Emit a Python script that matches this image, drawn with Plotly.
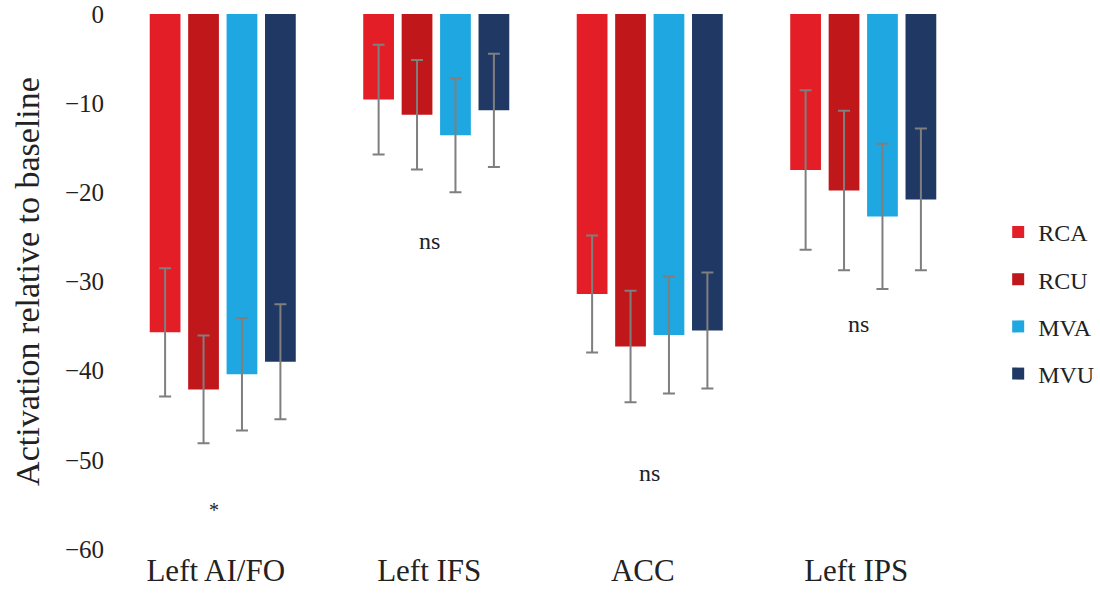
import plotly.graph_objects as go

categories = ["Left AI/FO", "Left IFS", "ACC", "Left IPS"]
series_names = ["RCA", "RCU", "MVA", "MVU"]
rca = [-35.7, -9.6, -31.4, -17.5]
rcu = [-42.1, -11.3, -37.3, -19.8]
mva = [-40.4, -13.6, -36.0, -22.7]
mvu = [-39.0, -10.8, -35.5, -20.8]
rca_err = [7.2, 6.15, 6.55, 8.95]
rcu_err = [6.05, 6.15, 6.25, 8.95]
mva_err = [6.3, 6.4, 6.55, 8.15]
mvu_err = [6.45, 6.35, 6.5, 7.95]
colors = ["#e41e26", "#c0171b", "#1fa7e1", "#1f3864"]

annot_text = ["*", "ns", "ns", "ns"]
annot_x = [-0.04, 0.97, 2.0, 2.98]
annot_y = [-55.6, -25.5, -51.5, -34.8]

values = [rca, rcu, mva, mvu]
errors = [rca_err, rcu_err, mva_err, mvu_err]

FONT = "Liberation Serif, Times New Roman, serif"

fig = go.Figure()
for name, vals, errs, col in zip(series_names, values, errors, colors):
    fig.add_trace(go.Bar(
        name=name, x=categories, y=vals, marker_color=col,
        marker_line_width=0, legendgroup=name,
        error_y=dict(type="data", array=errs, visible=True, color="#7f7f7f",
                     thickness=2, width=6),
    ))

for t, ax_, ay_ in zip(annot_text, annot_x, annot_y):
    fig.add_annotation(x=ax_, y=ay_, text=t, showarrow=False,
                       font=dict(family=FONT, size=24 if t != "*" else 20, color="#222"))

fig.update_layout(
    width=1100, height=610,
    margin=dict(l=116, r=130, t=14, b=61, autoexpand=False),
    paper_bgcolor="white", plot_bgcolor="white",
    barmode="group", bargap=0.28, bargroupgap=0.2,
    font=dict(family=FONT, color="#222"),
    showlegend=True,
    legend=dict(x=1.033, y=0.46, xanchor="left", yanchor="middle",
                font=dict(family=FONT, size=24, color="#222"),
                tracegroupgap=13, itemwidth=30),
)
fig.update_xaxes(
    type="category", showline=False, showgrid=False, ticks="", automargin=False,
    ticklabelshift=-7,
    tickfont=dict(family=FONT, size=31, color="#222"),
)
fig.update_yaxes(
    range=[-60, 0], dtick=10, showgrid=False, zeroline=False, showline=False,
    automargin=False, ticklabelstandoff=11, ticklabeloverflow="allow",
    tickfont=dict(family=FONT, size=25, color="#222"),
    title=dict(text="Activation relative to baseline",
               font=dict(family=FONT, size=34, color="#222"), standoff=14),
)
fig.add_shape(type="line", xref="paper", yref="y", x0=0, x1=1, y0=0.3, y1=0.3,
              line=dict(color="#d9d9d9", width=1.5), layer="below")

fig.write_html("out.html", config={"displayModeBar": False},
               post_script="document.body.style.margin='0';")
